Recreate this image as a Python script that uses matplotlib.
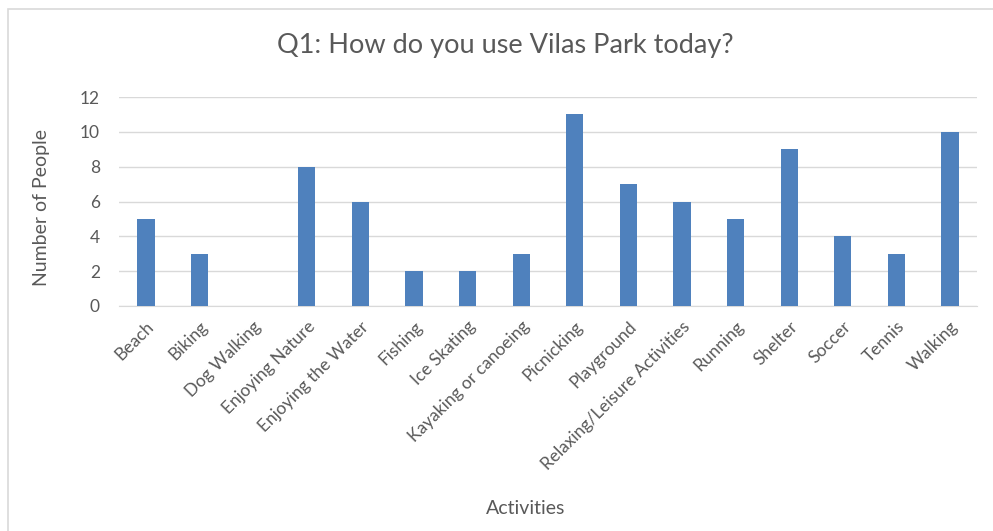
import matplotlib
matplotlib.use("Agg")
import matplotlib.pyplot as plt
from matplotlib.patches import Rectangle

activities = ["Beach", "Biking", "Dog Walking", "Enjoying Nature", "Enjoying the Water",
              "Fishing", "Ice Skating", "Kayaking or canoeing", "Picnicking", "Playground",
              "Relaxing/Leisure Activities", "Running", "Shelter", "Soccer", "Tennis", "Walking"]
people = [5, 3, 0, 8, 6, 2, 2, 3, 11, 7, 6, 5, 9, 4, 3, 10]
y_ticks = [0, 2, 4, 6, 8, 10, 12]

plt.rcParams["font.family"] = ["Lato", "DejaVu Sans"]
text_color = "#595959"
grid_color = "#D9D9D9"
bar_color = "#4F81BD"

fig = plt.figure(figsize=(9.93, 5.31), dpi=100)
# chart frame (runs past the right and bottom edges)
fig.patches.append(Rectangle((7.5 / 993, -0.05), 1.0, 1 - 8.5 / 531 + 0.05,
                             transform=fig.transFigure, fill=False,
                             edgecolor=grid_color, linewidth=1.2))

ax = fig.add_axes([119.2 / 993, 1 - 306 / 531, (976.8 - 119.2) / 993, (306 - 97) / 531])
x = range(len(activities))
ax.bar(x, people, width=0.32, color=bar_color, zorder=3)
ax.set_xlim(-0.5, len(activities) - 0.5)
ax.set_ylim(0, 12)
ax.set_yticks(y_ticks)
ax.set_yticklabels([str(v) for v in y_ticks], fontsize=12.5, color=text_color)
ax.set_xticks(list(x))
ax.set_xticklabels(activities, rotation=45, ha="right", rotation_mode="anchor",
                   fontsize=12.5, color=text_color)
ax.tick_params(axis="both", length=0)
ax.tick_params(axis="y", pad=14)
ax.tick_params(axis="x", pad=9)
ax.grid(axis="y", color=grid_color, linewidth=1, zorder=0)
for side in ["top", "right", "left"]:
    ax.spines[side].set_visible(False)
ax.spines["bottom"].set_color(grid_color)

fig.text(42 / 993, 1 - 208 / 531, "Number of People", ha="center", va="center",
         rotation=90, fontsize=14, color=text_color)
fig.text(526 / 993, 1 - 508 / 531, "Activities", ha="center", va="center",
         fontsize=14, color=text_color)
fig.text(505 / 993, 1 - 45 / 531, "Q1: How do you use Vilas Park today?", ha="center",
         va="center", fontsize=19.5, color=text_color)

fig.savefig("out.png", dpi=100)
